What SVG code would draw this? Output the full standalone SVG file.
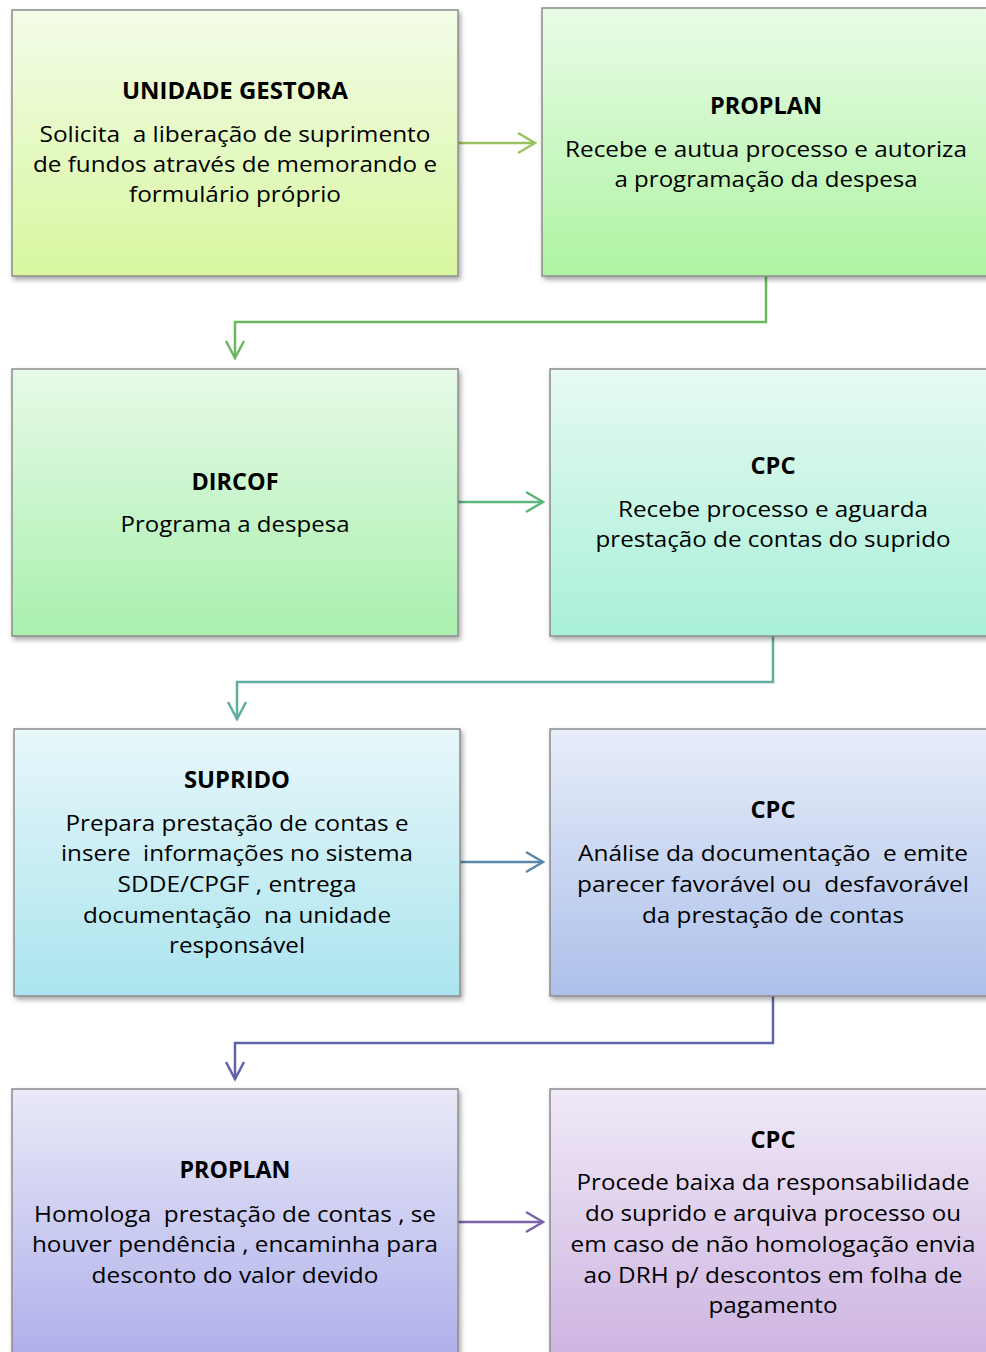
<svg xmlns="http://www.w3.org/2000/svg" width="986" height="1352" viewBox="0 0 986 1352">
<style>
.box{stroke:#8c8c8c;stroke-width:1.5;filter:url(#sh)}
.t{font-family:"Open Sans","Liberation Sans",sans-serif;font-size:22px;fill:#000;text-anchor:middle;white-space:pre}
.h{font-weight:bold;font-size:24px}
.c{fill:none;stroke-width:2.5}
</style>
<defs>
<filter id="sh" x="-10%" y="-10%" width="120%" height="120%">
<feDropShadow dx="2" dy="3" stdDeviation="2.5" flood-color="#000" flood-opacity="0.35"/>
</filter>
<linearGradient id="g1" x1="0" y1="0" x2="0" y2="1"><stop offset="0" stop-color="#f3fce8"/><stop offset="1" stop-color="#d8f79f"/></linearGradient>
<linearGradient id="g2" x1="0" y1="0" x2="0" y2="1"><stop offset="0" stop-color="#e9fbe7"/><stop offset="1" stop-color="#aef4a2"/></linearGradient>
<linearGradient id="g3" x1="0" y1="0" x2="0" y2="1"><stop offset="0" stop-color="#e7fae8"/><stop offset="1" stop-color="#a9f0ae"/></linearGradient>
<linearGradient id="g4" x1="0" y1="0" x2="0" y2="1"><stop offset="0" stop-color="#e6faf1"/><stop offset="1" stop-color="#a9f0d8"/></linearGradient>
<linearGradient id="g5" x1="0" y1="0" x2="0" y2="1"><stop offset="0" stop-color="#e7f7fa"/><stop offset="1" stop-color="#abe4ee"/></linearGradient>
<linearGradient id="g6" x1="0" y1="0" x2="0" y2="1"><stop offset="0" stop-color="#e7edf9"/><stop offset="1" stop-color="#acc0ea"/></linearGradient>
<linearGradient id="g7" x1="0" y1="0" x2="0" y2="1"><stop offset="0" stop-color="#e9e9f8"/><stop offset="1" stop-color="#adaeea"/></linearGradient>
<linearGradient id="g8" x1="0" y1="0" x2="0" y2="1"><stop offset="0" stop-color="#f0e9f7"/><stop offset="1" stop-color="#ccb3e0"/></linearGradient>
</defs>

<g id="connectors">
<g stroke="#9bc25e" class="c"><path d="M458 143 H535"/><path d="M518 133 L535 143 L518 153"/></g>
<g stroke="#6bb95e" class="c"><path d="M766 276 V322 H235 V358"/><path d="M226 341 L235 358 L244 341"/></g>
<g stroke="#5db67c" class="c"><path d="M458 502 H543"/><path d="M526 492 L543 502 L526 512"/></g>
<g stroke="#5fae9f" class="c"><path d="M773 636 V682 H237 V719"/><path d="M228 702 L237 719 L246 702"/></g>
<g stroke="#5a87aa" class="c"><path d="M460 862 H543"/><path d="M526 852 L543 862 L526 872"/></g>
<g stroke="#5f63ab" class="c"><path d="M773 996 V1043 H235 V1079"/><path d="M226 1062 L235 1079 L244 1062"/></g>
<g stroke="#7c64aa" class="c"><path d="M458 1222 H543"/><path d="M526 1212 L543 1222 L526 1232"/></g>
</g>

<g id="n1">
<rect class="box" x="12" y="10" width="446" height="266" fill="url(#g1)"/>
<text class="t h" x="235" y="99" textLength="226" lengthAdjust="spacingAndGlyphs">UNIDADE GESTORA</text>
<text class="t" x="235" y="142" textLength="391" lengthAdjust="spacingAndGlyphs">Solicita  a liberação de suprimento</text>
<text class="t" x="235" y="172" textLength="404" lengthAdjust="spacingAndGlyphs">de fundos através de memorando e</text>
<text class="t" x="235" y="202" textLength="212" lengthAdjust="spacingAndGlyphs">formulário próprio</text>
</g>

<g id="n2">
<rect class="box" x="542" y="8" width="450" height="268" fill="url(#g2)"/>
<text class="t h" x="766" y="114" textLength="112" lengthAdjust="spacingAndGlyphs">PROPLAN</text>
<text class="t" x="766" y="157" textLength="402" lengthAdjust="spacingAndGlyphs">Recebe e autua processo e autoriza</text>
<text class="t" x="766" y="187" textLength="303" lengthAdjust="spacingAndGlyphs">a programação da despesa</text>
</g>

<g id="n3">
<rect class="box" x="12" y="369" width="446" height="267" fill="url(#g3)"/>
<text class="t h" x="235" y="490" textLength="87" lengthAdjust="spacingAndGlyphs">DIRCOF</text>
<text class="t" x="235" y="532" textLength="229" lengthAdjust="spacingAndGlyphs">Programa a despesa</text>
</g>

<g id="n4">
<rect class="box" x="550" y="369" width="442" height="267" fill="url(#g4)"/>
<text class="t h" x="773" y="474" textLength="45" lengthAdjust="spacingAndGlyphs">CPC</text>
<text class="t" x="773" y="517" textLength="310" lengthAdjust="spacingAndGlyphs">Recebe processo e aguarda</text>
<text class="t" x="773" y="547" textLength="355" lengthAdjust="spacingAndGlyphs">prestação de contas do suprido</text>
</g>

<g id="n5">
<rect class="box" x="14" y="729" width="446" height="267" fill="url(#g5)"/>
<text class="t h" x="237" y="788" textLength="106" lengthAdjust="spacingAndGlyphs">SUPRIDO</text>
<text class="t" x="237" y="831" textLength="343" lengthAdjust="spacingAndGlyphs">Prepara prestação de contas e</text>
<text class="t" x="237" y="861" textLength="352" lengthAdjust="spacingAndGlyphs">insere  informações no sistema</text>
<text class="t" x="237" y="892" textLength="239" lengthAdjust="spacingAndGlyphs">SDDE/CPGF , entrega</text>
<text class="t" x="237" y="923" textLength="308" lengthAdjust="spacingAndGlyphs">documentação  na unidade</text>
<text class="t" x="237" y="953" textLength="136" lengthAdjust="spacingAndGlyphs">responsável</text>
</g>

<g id="n6">
<rect class="box" x="550" y="729" width="442" height="267" fill="url(#g6)"/>
<text class="t h" x="773" y="818" textLength="45" lengthAdjust="spacingAndGlyphs">CPC</text>
<text class="t" x="773" y="861" textLength="390" lengthAdjust="spacingAndGlyphs">Análise da documentação  e emite</text>
<text class="t" x="773" y="892" textLength="392" lengthAdjust="spacingAndGlyphs">parecer favorável ou  desfavorável</text>
<text class="t" x="773" y="923" textLength="262" lengthAdjust="spacingAndGlyphs">da prestação de contas</text>
</g>

<g id="n7">
<rect class="box" x="12" y="1089" width="446" height="275" fill="url(#g7)"/>
<text class="t h" x="235" y="1178" textLength="111" lengthAdjust="spacingAndGlyphs">PROPLAN</text>
<text class="t" x="235" y="1222" textLength="402" lengthAdjust="spacingAndGlyphs">Homologa  prestação de contas , se</text>
<text class="t" x="235" y="1252" textLength="406" lengthAdjust="spacingAndGlyphs">houver pendência , encaminha para</text>
<text class="t" x="235" y="1283" textLength="287" lengthAdjust="spacingAndGlyphs">desconto do valor devido</text>
</g>

<g id="n8">
<rect class="box" x="550" y="1089" width="442" height="275" fill="url(#g8)"/>
<text class="t h" x="773" y="1148" textLength="45" lengthAdjust="spacingAndGlyphs">CPC</text>
<text class="t" x="773" y="1190" textLength="393" lengthAdjust="spacingAndGlyphs">Procede baixa da responsabilidade</text>
<text class="t" x="773" y="1221" textLength="376" lengthAdjust="spacingAndGlyphs">do suprido e arquiva processo ou</text>
<text class="t" x="773" y="1252" textLength="405" lengthAdjust="spacingAndGlyphs">em caso de não homologação envia</text>
<text class="t" x="773" y="1283" textLength="379" lengthAdjust="spacingAndGlyphs">ao DRH p/ descontos em folha de</text>
<text class="t" x="773" y="1313" textLength="129" lengthAdjust="spacingAndGlyphs">pagamento</text>
</g>
</svg>
